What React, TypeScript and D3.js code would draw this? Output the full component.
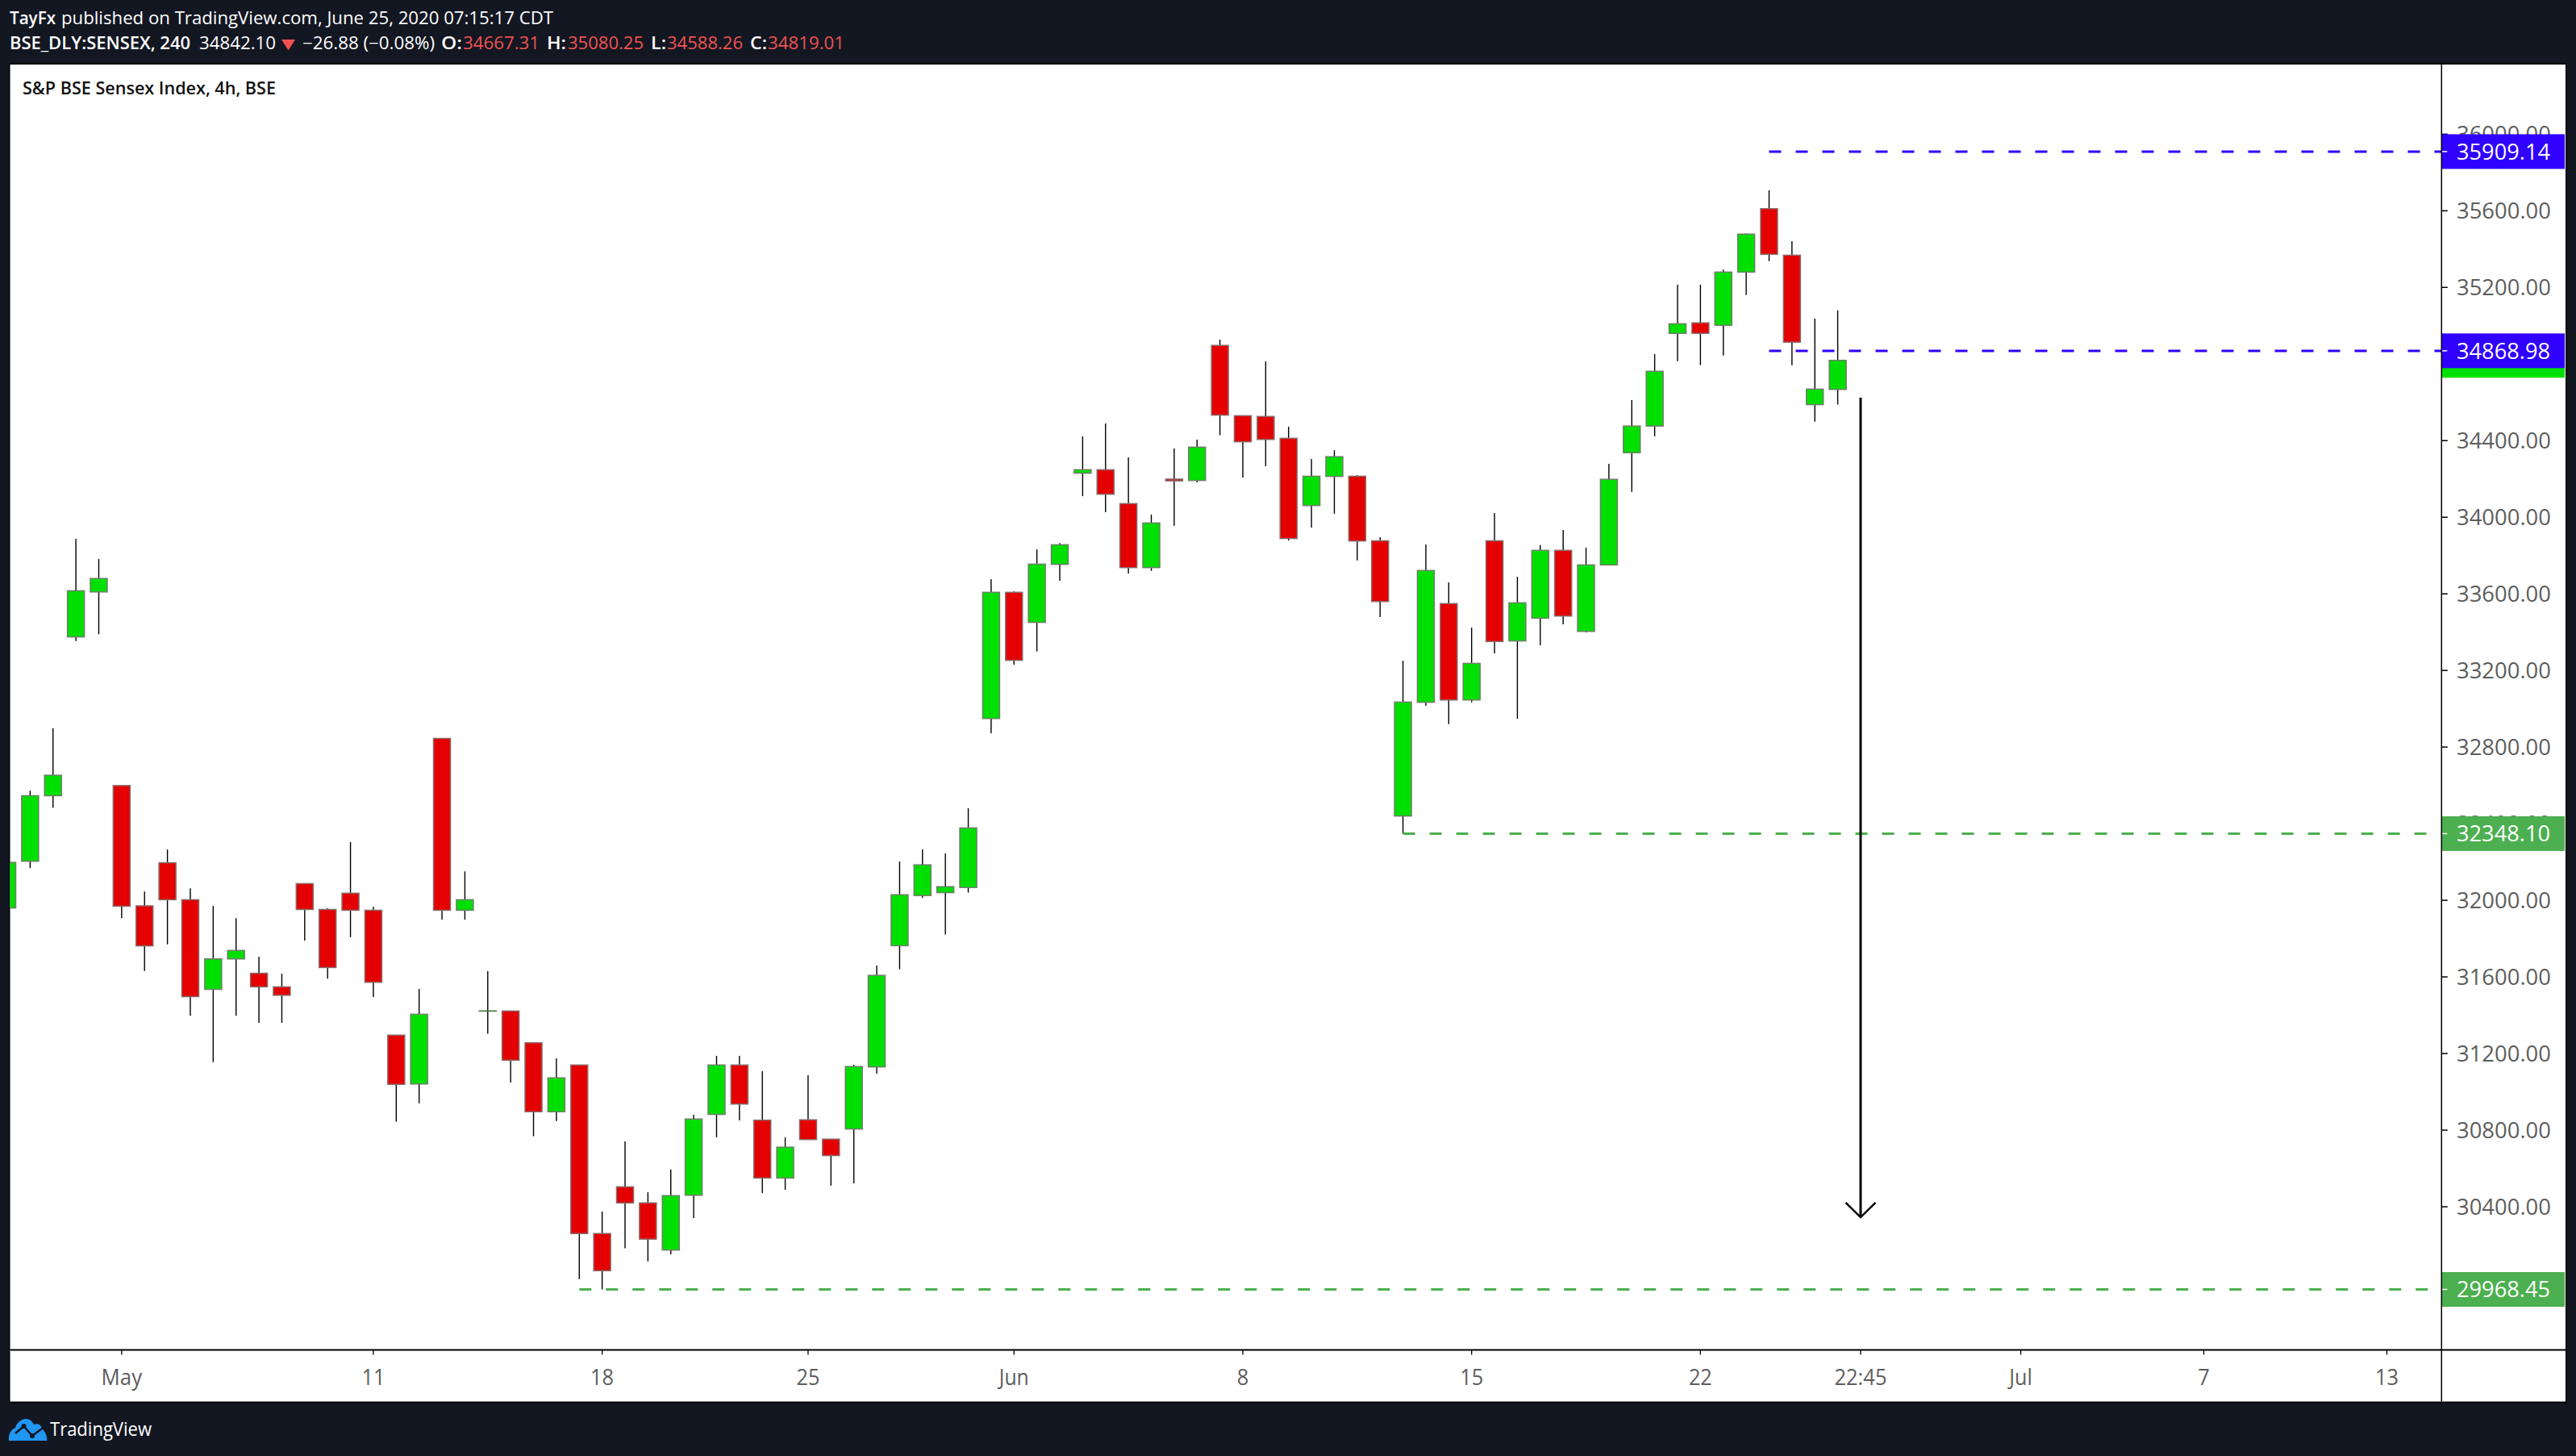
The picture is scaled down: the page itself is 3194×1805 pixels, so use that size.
import React from "react";
import * as d3 from "d3";

const opens = [31960,32204,32546,33375,33610,32599,31971,32196,32003,31535,31694,31619,31548,32087,31952,32037,31948,31296,31041,32845,31948,31422,31422,31256,30896,31140,30260,30504,30420,30174,30460,30882,31140,30852,30550,30854,30753,30806,31130,31763,32025,32040,32067,32949,33608,33451,33754,34230,34248,34071,33737,34199,34192,34897,34530,34526,34412,34061,34213,34214,33877,32440,33034,33549,33046,33877,33354,33473,33827,33404,33751,34337,34476,34960,35015,35002,35280,35611,35368,34588,34667.31];
const highs = [32198,32572,32898,33887,33782,32599,32046,32266,32063,31971,31907,31706,31617,32087,31958,32304,31967,31296,31537,32845,32151,31630,31422,31256,31175,31140,30375,30741,30476,30594,30880,31188,31188,31108,30762,31087,30753,31141,31659,32203,32266,32245,32481,33677,33613,33832,33865,34422,34489,34313,34014,34359,34405,34927,34530,34814,34473,34304,34350,34220,33896,33251,33858,33660,33424,34022,33689,33854,33934,33841,34279,34612,34852,35214,35214,35293,35482,35707,35441,35037,35080.25];
const lows = [31960,32168,32484,33353,33389,31907,31631,31770,31397,31155,31397,31360,31360,31790,31591,31807,31495,30844,30940,31899,31899,31303,31049,30768,30848,30022,29968,30183,30115,30152,30341,30762,30851,30472,30489,30751,30510,30522,31095,31640,32013,31821,32040,32872,33230,33299,33668,34110,34026,33706,33720,33956,34182,34428,34207,34266,33879,33946,34018,33774,33479,32348,33015,32920,33034,33289,32948,33331,33441,33399,33751,34133,34423,34815,34794,34844,35160,35337,34794,34499,34588.26];
const closes = [32198,32546,32653,33616,33680,31969,31762,32003,31497,31694,31738,31548,31504,31952,31649,31948,31572,31039,31405,31948,32003,31422,31165,30896,31073,30260,30066,30420,30231,30458,30858,31140,30936,30550,30711,30751,30667,31132,31608,32029,32185,32071,32378,33608,33253,33755,33856,34248,34120,33737,33970,34190,34366,34533,34394,34406,33889,34214,34316,33876,33560,33035,33722,33046,33237,33351,33553,33827,33484,33751,34198,34476,34762,35010,34960,35280,35478,35373,34914,34669,34819.01];

const priceTicks = [36000,35600,35200,34800,34400,34000,33600,33200,32800,32400,32000,31600,31200,30800,30400,30000];
const timeTickBars = [5,16,26,35,44,54,64,74,81,88,96,104];
const timeTickLabels = ["May","11","18","25","Jun","8","15","22","22:45","Jul","7","13"];

const levelPrices = [35909.14,34868.98,32348.10,29968.45];
const levelLabels = ["35909.14","34868.98","32348.10","29968.45"];
const levelStartBars = [77,77,61,25];
const levelColors = ["#2f00ff","#2f00ff","#4caf50","#4caf50"];

const lastClose = 34819.01;
const projectionBar = 81;
const projectionFrom = 34624;
const projectionTo = 30345;
const projectionHead = 30422;

const BG = "#131722";
const UP = "#00e000";
const DOWN = "#e40000";
const RED_TXT = "#ef5350";
const FONT = "'Open Sans', sans-serif";

const PL = 12.5, PR = 3181, PT = 80, PB = 1737.5, AX = 3027.3, TY = 1673.5;

type TxtProps = { x: number; y: number; w: number; bold?: boolean; fill?: string; size?: number; children: string };
function T({ x, y, w, bold, fill, size, children }: TxtProps) {
  return (
    <text x={x} y={y} textLength={w} lengthAdjust="spacingAndGlyphs" fontFamily={FONT}
      fontSize={size ?? 21} fontWeight={bold ? 600 : 400} fill={fill ?? "#fff"}>{children}</text>
  );
}

export default function App() {
  const x = d3.scaleLinear().domain([0, 1]).range([9, 37.37]);
  const y = d3.scaleLinear().domain([35600, 30400]).range([261.3, 1496]);
  const bodyW = 21;
  const arrow = d3.line();
  const ax = x(projectionBar);

  return (
    <svg width={3194} height={1805} viewBox="0 0 3194 1805"
      style={{ position: "absolute", left: 0, top: 0, display: "block" }}>
      <defs>
        <clipPath id="plot"><rect x={PL} y={PT} width={AX - PL} height={TY - PT} /></clipPath>
      </defs>
      <rect x={0} y={0} width={3194} height={1805} fill={BG} />
      <rect x={PL - 1.5} y={PT - 2} width={PR - PL + 3} height={PB - PT + 4} fill="#000" />
      <rect x={PL} y={PT} width={PR - PL} height={PB - PT} fill="#fff" />

      {/* header */}
      <T x={12} y={30} w={57} bold>TayFx</T>
      <T x={76} y={30} w={610}>published on TradingView.com, June 25, 2020 07:15:17 CDT</T>
      <T x={12} y={60.5} w={224} bold>BSE_DLY:SENSEX, 240</T>
      <T x={247} y={60.5} w={95}>34842.10</T>
      <path d="M349,49 L366,49 L357.5,62.5 Z" fill={RED_TXT} />
      <T x={375} y={60.5} w={164}>−26.88 (−0.08%)</T>
      <T x={547} y={60.5} w={26} bold>O:</T>
      <T x={574} y={60.5} w={95} fill={RED_TXT}>34667.31</T>
      <T x={678} y={60.5} w={24} bold>H:</T>
      <T x={704} y={60.5} w={94} fill={RED_TXT}>35080.25</T>
      <T x={807} y={60.5} w={19} bold>L:</T>
      <T x={827} y={60.5} w={94} fill={RED_TXT}>34588.26</T>
      <T x={930} y={60.5} w={21} bold>C:</T>
      <T x={952} y={60.5} w={95} fill={RED_TXT}>34819.01</T>
      <T x={28} y={116.5} w={314} bold fill="#111">S&amp;P BSE Sensex Index, 4h, BSE</T>

      {/* candles */}
      <g clipPath="url(#plot)">
        {opens.map((o, i) => {
          const c = closes[i];
          const up = c >= o;
          const top = y(Math.max(o, c));
          const bot = y(Math.min(o, c));
          const cx = x(i);
          const flat = bot - top < 1;
          return (
            <g key={i}>
              <line x1={cx} x2={cx} y1={y(highs[i])} y2={y(lows[i])} stroke="#000" strokeWidth={1.4} />
              {flat ? (
                <line x1={cx - bodyW / 2 - 0.7} x2={cx + bodyW / 2 + 0.7} y1={top} y2={top} stroke="#3d6b33" strokeWidth={1.5} />
              ) : (
                <rect x={cx - bodyW / 2} y={top} width={bodyW} height={bot - top}
                  fill={up ? UP : DOWN} stroke={up ? "#6f7f6a" : "#8a6a6a"} strokeWidth={1.5} />
              )}
            </g>
          );
        })}
      </g>

      {/* price ticks */}
      {priceTicks.map((p) => (
        <g key={p}>
          <line x1={AX} x2={AX + 7.5} y1={y(p)} y2={y(p)} stroke="#000" strokeWidth={1.5} />
          <T x={3046} y={y(p) + 9.7} w={117} size={27} fill="#5d5d5d">{p.toFixed(2)}</T>
        </g>
      ))}

      {/* current price label, hidden under the level label */}
      <rect x={AX} y={y(lastClose) - 21.5} width={3180 - AX} height={43} fill={UP} />

      {/* levels */}
      {levelPrices.map((p, i) => (
        <g key={p}>
          <line x1={x(levelStartBars[i])} x2={AX} y1={y(p)} y2={y(p)} stroke={levelColors[i]}
            strokeWidth={3} strokeDasharray="15 18" />
          <rect x={AX} y={y(p) - 21.5} width={3180 - AX} height={43} fill={levelColors[i]} />
          <line x1={AX} x2={AX + 7} y1={y(p)} y2={y(p)} stroke="#fff" strokeWidth={1.5} />
          <T x={3046} y={y(p) + 9.7} w={116} size={27}>{levelLabels[i]}</T>
        </g>
      ))}

      {/* projection arrow */}
      <path d={arrow([[ax, y(projectionFrom)], [ax, y(projectionTo)]]) ?? ""} stroke="#000" strokeWidth={3} fill="none" />
      <path d={arrow([[ax - 18.5, y(projectionHead)], [ax, y(projectionTo)], [ax + 18.5, y(projectionHead)]]) ?? ""}
        stroke="#000" strokeWidth={2.5} fill="none" />

      {/* axes */}
      <line x1={AX} x2={AX} y1={PT} y2={PB} stroke="#000" strokeWidth={1.5} />
      <line x1={PL} x2={PR} y1={TY} y2={TY} stroke="#000" strokeWidth={2} />
      {timeTickBars.map((b, i) => {
        const w = d3.sum(timeTickLabels[i].split(""), (ch) =>
          ch === "M" ? 23 : ch === "a" ? 14.5 : ch === "y" ? 13 : ch === "J" ? 7 : ch === "u" ? 15 : ch === "n" ? 15 : ch === "l" ? 6.5 : ch === ":" ? 7 : 14.5);
        return (
          <g key={b}>
            <line x1={x(b)} x2={x(b)} y1={TY} y2={TY + 6} stroke="#000" strokeWidth={1.3} />
            <T x={x(b) - w / 2} y={1716.5} w={w} size={27} fill="#5d5d5d">{timeTickLabels[i]}</T>
          </g>
        );
      })}

      {/* brand */}
      <path d="M11,1786 C10,1778 14,1772 19,1770 C21,1763 27,1759 32,1759 C37,1759 40,1762 42,1766 C46,1764 51,1766 52,1771 C56,1775 59,1780 58,1786 Z" fill="#2196f3" />
      <path d="M19,1777 L29.5,1768 L40,1780 L53.5,1770" stroke={BG} strokeWidth={2.5} fill="none" />
      <circle cx={29.5} cy={1768} r={3} fill={BG} />
      <circle cx={40} cy={1780} r={3} fill={BG} />
      <T x={62} y={1780} w={126} size={23}>TradingView</T>
    </svg>
  );
}
